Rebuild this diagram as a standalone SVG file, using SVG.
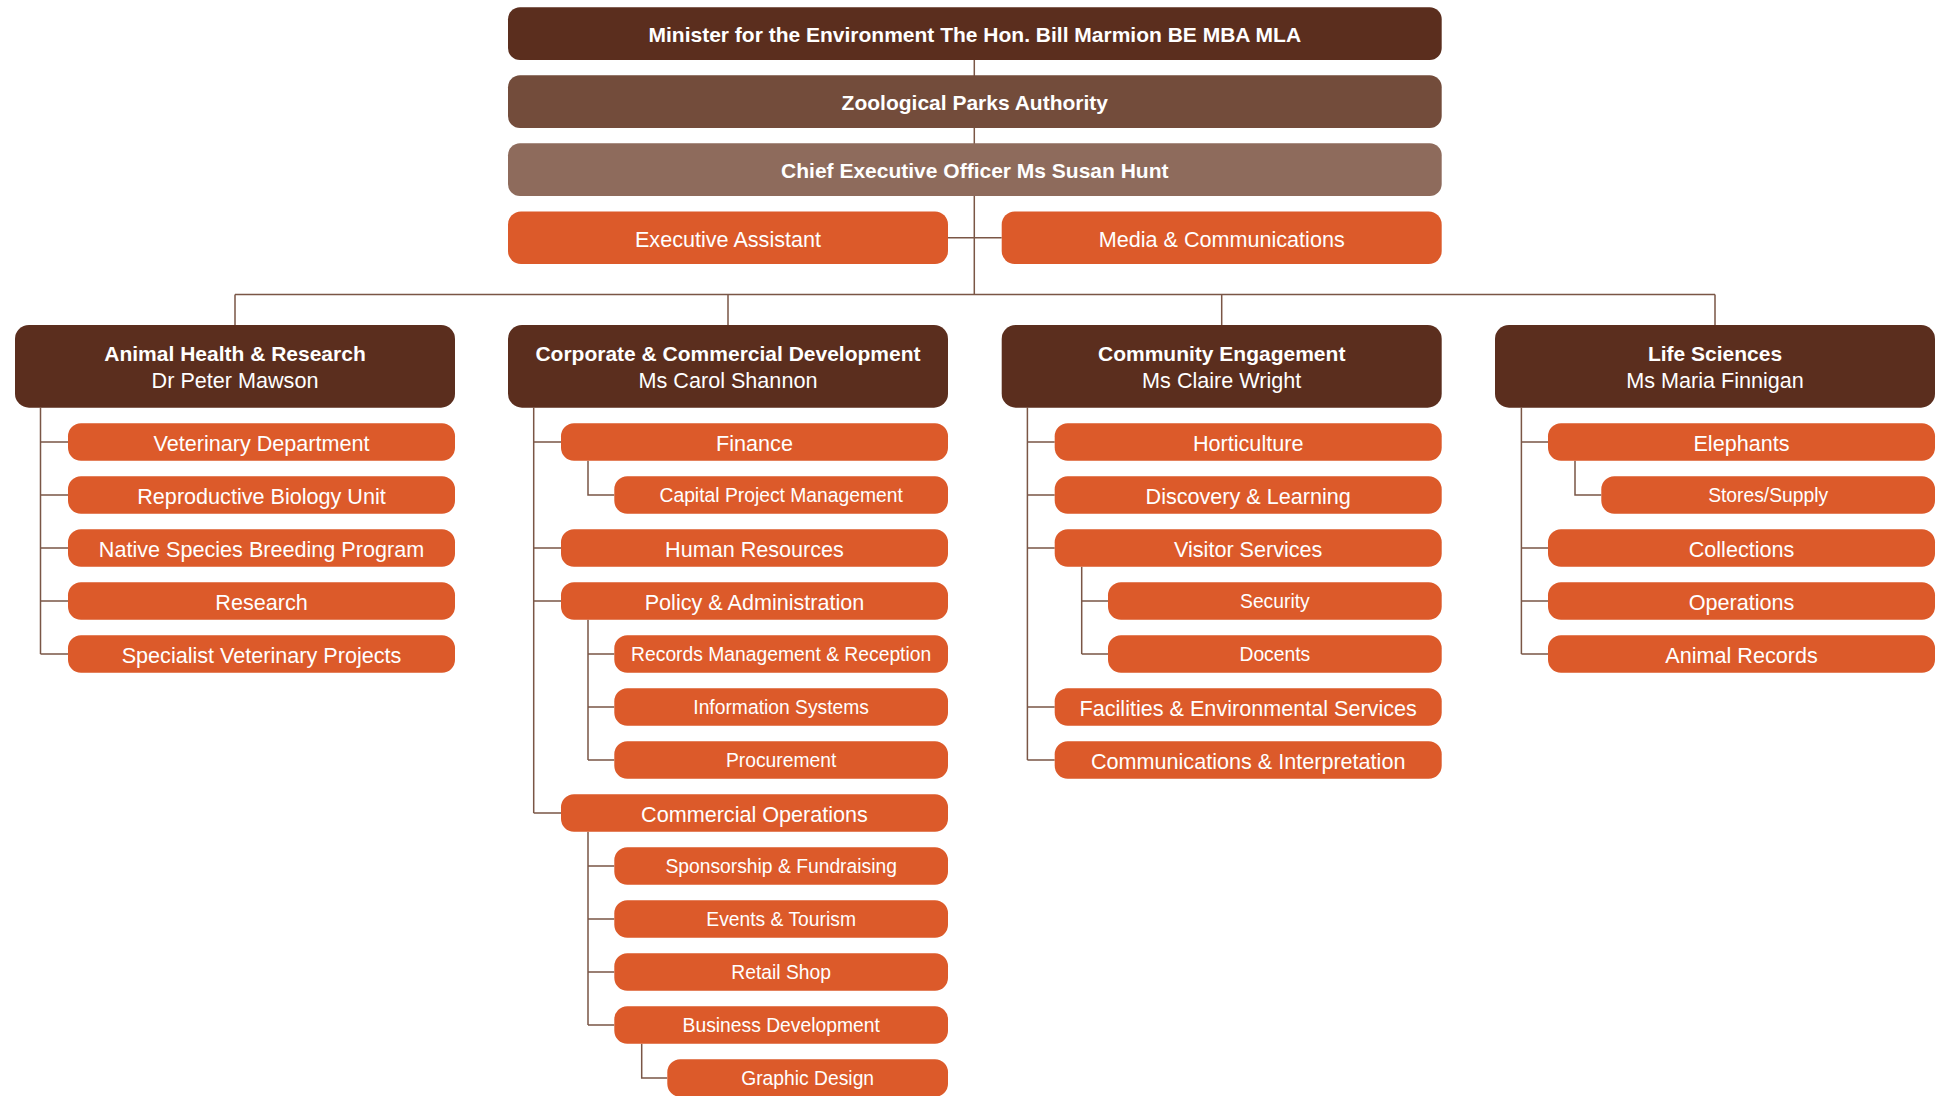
<svg xmlns="http://www.w3.org/2000/svg" width="1937" height="1096" viewBox="0 0 1937 1096">
<style>
.bg{fill:#ffffff}
.minister{fill:#5b2e1e}
.zoo{fill:#734c3b}
.ceo{fill:#8e6b5c}
.orange{fill:#dc5a2a}
.div{fill:#5b2e1e}
.conn{stroke:#7a5646;stroke-width:1.5;fill:none}
text{font-family:"Liberation Sans",Arial,Helvetica,sans-serif;fill:#ffffff;text-anchor:middle}
.tb{font-size:21px;font-weight:bold}
.t1{font-size:21.6px}
.t2{font-size:19.3px}
</style>
<rect class="bg" x="0" y="0" width="1937" height="1096"/>

<g id="connectors">
<path class="conn" d="M974.3 60 V294.5 M948 237.8 H1001.7 M235 294.5 H1715 M235 294.5 V325 M728 294.5 V325 M1221.7 294.5 V325 M1715 294.5 V325"/>
<!-- Animal Health -->
<path class="conn" d="M40.5 407.7 V654.05 M40.5 442.05 H68 M40.5 495.05 H68 M40.5 548.05 H68 M40.5 601.05 H68 M40.5 654.05 H68"/>
<!-- Corporate -->
<path class="conn" d="M533.7 407.7 V813.05 M533.7 442.05 H561 M533.7 548.05 H561 M533.7 601.05 H561 M533.7 813.05 H561"/>
<path class="conn" d="M588 460.8 V495.05 H614.3"/>
<path class="conn" d="M588 619.8 V760.05 M588 654.05 H614.3 M588 707.05 H614.3 M588 760.05 H614.3"/>
<path class="conn" d="M588 831.8 V1025.05 M588 866.05 H614.3 M588 919.05 H614.3 M588 972.05 H614.3 M588 1025.05 H614.3"/>
<path class="conn" d="M641.7 1043.8 V1078.05 H667.3"/>
<!-- Community -->
<path class="conn" d="M1027.4 407.7 V760.05 M1027.4 442.05 H1054.7 M1027.4 495.05 H1054.7 M1027.4 548.05 H1054.7 M1027.4 707.05 H1054.7 M1027.4 760.05 H1054.7"/>
<path class="conn" d="M1081.7 566.8 V654.05 M1081.7 601.05 H1108 M1081.7 654.05 H1108"/>
<!-- Life Sciences -->
<path class="conn" d="M1521.4 407.7 V654.05 M1521.4 442.05 H1548 M1521.4 548.05 H1548 M1521.4 601.05 H1548 M1521.4 654.05 H1548"/>
<path class="conn" d="M1575 460.8 V495.05 H1601.3"/>
</g>

<g id="minister"><rect class="minister" x="508" y="7.3" width="933.7" height="52.7" rx="12"/><text class="tb" x="974.8" y="42">Minister for the Environment The Hon. Bill Marmion BE MBA MLA</text></g>
<g id="zoo-authority"><rect class="zoo" x="508" y="75.3" width="933.7" height="52.7" rx="12"/><text class="tb" x="974.8" y="110">Zoological Parks Authority</text></g>
<g id="ceo"><rect class="ceo" x="508" y="143.3" width="933.7" height="52.7" rx="12"/><text class="tb" x="974.8" y="178">Chief Executive Officer Ms Susan Hunt</text></g>
<g id="exec-assistant"><rect class="orange" x="508" y="211.5" width="440" height="52.5" rx="13"/><text class="t1" x="728" y="246.5">Executive Assistant</text></g>
<g id="media-comms"><rect class="orange" x="1001.7" y="211.5" width="440" height="52.5" rx="13"/><text class="t1" x="1221.7" y="246.5">Media &amp; Communications</text></g>

<g id="animal-health"><rect class="div" x="15" y="325" width="440" height="82.7" rx="14"/><text class="tb" x="235" y="361">Animal Health &amp; Research</text><text class="t1" x="235" y="388.3">Dr Peter Mawson</text></g>
<g id="corporate"><rect class="div" x="508" y="325" width="440" height="82.7" rx="14"/><text class="tb" x="728" y="361">Corporate &amp; Commercial Development</text><text class="t1" x="728" y="388.3">Ms Carol Shannon</text></g>
<g id="community"><rect class="div" x="1001.7" y="325" width="440" height="82.7" rx="14"/><text class="tb" x="1221.7" y="361">Community Engagement</text><text class="t1" x="1221.7" y="388.3">Ms Claire Wright</text></g>
<g id="life-sciences"><rect class="div" x="1495" y="325" width="440" height="82.7" rx="14"/><text class="tb" x="1715" y="361">Life Sciences</text><text class="t1" x="1715" y="388.3">Ms Maria Finnigan</text></g>

<!-- Animal Health children -->
<g id="veterinary-department"><rect class="orange" x="68" y="423.3" width="387" height="37.5" rx="13"/><text class="t1" x="261.5" y="450.5">Veterinary Department</text></g>
<g id="reproductive-biology"><rect class="orange" x="68" y="476.3" width="387" height="37.5" rx="13"/><text class="t1" x="261.5" y="503.5">Reproductive Biology Unit</text></g>
<g id="native-species"><rect class="orange" x="68" y="529.3" width="387" height="37.5" rx="13"/><text class="t1" x="261.5" y="556.5">Native Species Breeding Program</text></g>
<g id="research"><rect class="orange" x="68" y="582.3" width="387" height="37.5" rx="13"/><text class="t1" x="261.5" y="609.5">Research</text></g>
<g id="specialist-vet"><rect class="orange" x="68" y="635.3" width="387" height="37.5" rx="13"/><text class="t1" x="261.5" y="662.5">Specialist Veterinary Projects</text></g>

<!-- Corporate children -->
<g id="finance"><rect class="orange" x="561" y="423.3" width="387" height="37.5" rx="13"/><text class="t1" x="754.5" y="450.5">Finance</text></g>
<g id="capital-project"><rect class="orange" x="614.3" y="476.3" width="333.7" height="37.5" rx="13"/><text class="t2" x="781.15" y="502.4">Capital Project Management</text></g>
<g id="human-resources"><rect class="orange" x="561" y="529.3" width="387" height="37.5" rx="13"/><text class="t1" x="754.5" y="556.5">Human Resources</text></g>
<g id="policy-admin"><rect class="orange" x="561" y="582.3" width="387" height="37.5" rx="13"/><text class="t1" x="754.5" y="609.5">Policy &amp; Administration</text></g>
<g id="records-management"><rect class="orange" x="614.3" y="635.3" width="333.7" height="37.5" rx="13"/><text class="t2" x="781.15" y="661.4">Records Management &amp; Reception</text></g>
<g id="information-systems"><rect class="orange" x="614.3" y="688.3" width="333.7" height="37.5" rx="13"/><text class="t2" x="781.15" y="714.4">Information Systems</text></g>
<g id="procurement"><rect class="orange" x="614.3" y="741.3" width="333.7" height="37.5" rx="13"/><text class="t2" x="781.15" y="767.4">Procurement</text></g>
<g id="commercial-operations"><rect class="orange" x="561" y="794.3" width="387" height="37.5" rx="13"/><text class="t1" x="754.5" y="821.5">Commercial Operations</text></g>
<g id="sponsorship"><rect class="orange" x="614.3" y="847.3" width="333.7" height="37.5" rx="13"/><text class="t2" x="781.15" y="873.4">Sponsorship &amp; Fundraising</text></g>
<g id="events-tourism"><rect class="orange" x="614.3" y="900.3" width="333.7" height="37.5" rx="13"/><text class="t2" x="781.15" y="926.4">Events &amp; Tourism</text></g>
<g id="retail-shop"><rect class="orange" x="614.3" y="953.3" width="333.7" height="37.5" rx="13"/><text class="t2" x="781.15" y="979.4">Retail Shop</text></g>
<g id="business-development"><rect class="orange" x="614.3" y="1006.3" width="333.7" height="37.5" rx="13"/><text class="t2" x="781.15" y="1032.4">Business Development</text></g>
<g id="graphic-design"><rect class="orange" x="667.3" y="1059.3" width="280.7" height="37.5" rx="13"/><text class="t2" x="807.65" y="1085.4">Graphic Design</text></g>

<!-- Community children -->
<g id="horticulture"><rect class="orange" x="1054.7" y="423.3" width="387" height="37.5" rx="13"/><text class="t1" x="1248.2" y="450.5">Horticulture</text></g>
<g id="discovery-learning"><rect class="orange" x="1054.7" y="476.3" width="387" height="37.5" rx="13"/><text class="t1" x="1248.2" y="503.5">Discovery &amp; Learning</text></g>
<g id="visitor-services"><rect class="orange" x="1054.7" y="529.3" width="387" height="37.5" rx="13"/><text class="t1" x="1248.2" y="556.5">Visitor Services</text></g>
<g id="security"><rect class="orange" x="1108" y="582.3" width="333.7" height="37.5" rx="13"/><text class="t2" x="1274.85" y="608.4">Security</text></g>
<g id="docents"><rect class="orange" x="1108" y="635.3" width="333.7" height="37.5" rx="13"/><text class="t2" x="1274.85" y="661.4">Docents</text></g>
<g id="facilities"><rect class="orange" x="1054.7" y="688.3" width="387" height="37.5" rx="13"/><text class="t1" x="1248.2" y="715.5">Facilities &amp; Environmental Services</text></g>
<g id="communications-interpretation"><rect class="orange" x="1054.7" y="741.3" width="387" height="37.5" rx="13"/><text class="t1" x="1248.2" y="768.5">Communications &amp; Interpretation</text></g>

<!-- Life Sciences children -->
<g id="elephants"><rect class="orange" x="1548" y="423.3" width="387" height="37.5" rx="13"/><text class="t1" x="1741.5" y="450.5">Elephants</text></g>
<g id="stores-supply"><rect class="orange" x="1601.3" y="476.3" width="333.7" height="37.5" rx="13"/><text class="t2" x="1768.15" y="502.4">Stores/Supply</text></g>
<g id="collections"><rect class="orange" x="1548" y="529.3" width="387" height="37.5" rx="13"/><text class="t1" x="1741.5" y="556.5">Collections</text></g>
<g id="operations"><rect class="orange" x="1548" y="582.3" width="387" height="37.5" rx="13"/><text class="t1" x="1741.5" y="609.5">Operations</text></g>
<g id="animal-records"><rect class="orange" x="1548" y="635.3" width="387" height="37.5" rx="13"/><text class="t1" x="1741.5" y="662.5">Animal Records</text></g>
</svg>
